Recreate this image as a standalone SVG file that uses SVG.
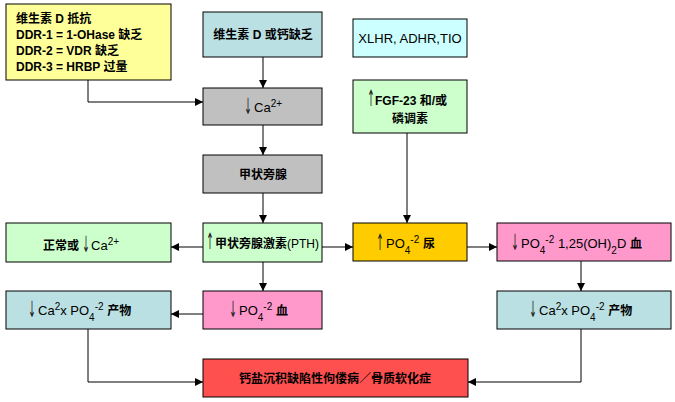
<svg xmlns="http://www.w3.org/2000/svg" width="675" height="402" viewBox="0 0 675 402">
<defs>
<marker id="ah" markerWidth="8" markerHeight="8" refX="8" refY="4" orient="auto" markerUnits="userSpaceOnUse">
<path d="M0,0 L8,4 L0,8 Z" fill="#000"/>
</marker>
<style>
.box{stroke:#000;stroke-width:1}
.b{font-family:"Liberation Sans","Noto Sans CJK SC",sans-serif;font-size:12px;font-weight:bold;fill:#000}
.r{font-family:"Liberation Sans","Noto Sans CJK SC",sans-serif;font-size:13px;fill:#000}
.cb{font-weight:bold;font-size:12px}
.arw{font-family:"DejaVu Sans",sans-serif;font-size:14px;fill:#222;text-anchor:middle}
.sup{font-size:10px}
.conn{fill:none;stroke:#000;stroke-width:1}
</style>
</defs>
<rect width="675" height="402" fill="#fff"/>
<g id="connectors">
<path class="conn" d="M88,80 V102 H203" marker-end="url(#ah)"/>
<path class="conn" d="M263,57 V88" marker-end="url(#ah)"/>
<path class="conn" d="M263,125 V155" marker-end="url(#ah)"/>
<path class="conn" d="M263,193 V223" marker-end="url(#ah)"/>
<path class="conn" d="M203,247 H171" marker-end="url(#ah)"/>
<path class="conn" d="M322,247 H353" marker-end="url(#ah)"/>
<path class="conn" d="M407,133 V223" marker-end="url(#ah)"/>
<path class="conn" d="M467,247 H497" marker-end="url(#ah)"/>
<path class="conn" d="M263,262 V291" marker-end="url(#ah)"/>
<path class="conn" d="M203,314 H171" marker-end="url(#ah)"/>
<path class="conn" d="M581,261 V291" marker-end="url(#ah)"/>
<path class="conn" d="M88,329 V382 H203" marker-end="url(#ah)"/>
<path class="conn" d="M581,329 V382 H468" marker-end="url(#ah)"/>
</g>
<g id="n_resist">
<rect class="box" x="6" y="4" width="165" height="76" fill="#ffff99"/>
<text class="b" x="16" y="23">维生素 D 抵抗</text>
<text class="b" x="16" y="39">DDR-1 = 1-OHase 缺乏</text>
<text class="b" x="16" y="55">DDR-2 = VDR 缺乏</text>
<text class="b" x="16" y="71">DDR-3 = HRBP 过量</text>
</g>
<g id="n_deficit">
<rect class="box" x="203" y="12" width="119" height="45" fill="#bbe0e3"/>
<text class="b" x="263" y="39" text-anchor="middle">维生素 D 或钙缺乏</text>
</g>
<g id="n_ca">
<rect class="box" x="203" y="88" width="119" height="37" fill="#c0c0c0"/>
<text class="arw" transform="translate(248,114) scale(0.65,1.6)">↓</text>
<text class="r" x="254" y="112">Ca<tspan class="sup" baseline-shift="super">2+</tspan></text>
</g>
<g id="n_xlhr">
<rect class="box" x="353" y="19" width="114" height="38" fill="#ccffff"/>
<text class="r" x="410" y="43" text-anchor="middle">XLHR, ADHR,TIO</text>
</g>
<g id="n_fgf">
<rect class="box" x="353" y="80" width="114" height="53" fill="#ccffcc"/>
<text class="arw" transform="translate(371,106) scale(0.65,1.6)">↑</text>
<text class="b" x="375" y="105">FGF-23 和/或</text>
<text class="b" x="410" y="123" text-anchor="middle">磷调素</text>
</g>
<g id="n_para">
<rect class="box" x="203" y="155" width="119" height="38" fill="#c0c0c0"/>
<text class="b" x="263" y="179" text-anchor="middle">甲状旁腺</text>
</g>
<g id="n_pth">
<rect class="box" x="203" y="223" width="119" height="39" fill="#ccffcc"/>
<text class="arw" transform="translate(210,249) scale(0.65,1.6)">↑</text>
<text class="r" x="215" y="248"><tspan class="cb">甲状旁腺激素</tspan><tspan font-size="12">(PTH)</tspan></text>
</g>
<g id="n_normal">
<rect class="box" x="6" y="223" width="165" height="39" fill="#ccffcc"/>
<text class="b" x="43" y="250">正常或</text>
<text class="arw" transform="translate(86,252) scale(0.65,1.6)">↓</text>
<text class="r" x="91" y="250">Ca<tspan class="sup" baseline-shift="super">2+</tspan></text>
</g>
<g id="n_urine">
<rect class="box" x="353" y="223" width="114" height="38" fill="#ffcc00"/>
<text class="arw" transform="translate(380,250) scale(0.65,1.6)">↑</text>
<text class="r" x="386" y="248">PO<tspan class="sup" baseline-shift="sub">4</tspan><tspan class="sup" baseline-shift="super">-2</tspan> <tspan class="cb">尿</tspan></text>
</g>
<g id="n_blood_d">
<rect class="box" x="497" y="223" width="174" height="38" fill="#ff99cc"/>
<text class="arw" transform="translate(515,250) scale(0.65,1.6)">↓</text>
<text class="r" x="521" y="248">PO<tspan class="sup" baseline-shift="sub">4</tspan><tspan class="sup" baseline-shift="super">-2</tspan> 1,25(OH)<tspan class="sup" baseline-shift="sub">2</tspan>D <tspan class="cb">血</tspan></text>
</g>
<g id="n_prod_l">
<rect class="box" x="6" y="291" width="165" height="38" fill="#bbe0e3"/>
<text class="arw" transform="translate(32,317) scale(0.65,1.6)">↓</text>
<text class="r" x="38" y="315">Ca<tspan class="sup" baseline-shift="super">2</tspan>x PO<tspan class="sup" baseline-shift="sub">4</tspan><tspan class="sup" baseline-shift="super">-2</tspan>  <tspan class="cb">产物</tspan></text>
</g>
<g id="n_blood">
<rect class="box" x="203" y="291" width="119" height="38" fill="#ff99cc"/>
<text class="arw" transform="translate(233,317) scale(0.65,1.6)">↓</text>
<text class="r" x="239" y="315">PO<tspan class="sup" baseline-shift="sub">4</tspan><tspan class="sup" baseline-shift="super">-2</tspan> <tspan class="cb">血</tspan></text>
</g>
<g id="n_prod_r">
<rect class="box" x="497" y="291" width="174" height="38" fill="#bbe0e3"/>
<text class="arw" transform="translate(533,317) scale(0.65,1.6)">↓</text>
<text class="r" x="539" y="315">Ca<tspan class="sup" baseline-shift="super">2</tspan>x PO<tspan class="sup" baseline-shift="sub">4</tspan><tspan class="sup" baseline-shift="super">-2</tspan> <tspan class="cb">产物</tspan></text>
</g>
<g id="n_rickets">
<rect class="box" x="203" y="359" width="265" height="38" fill="#ff5050"/>
<text class="b" x="335" y="383" text-anchor="middle">钙盐沉积缺陷性佝偻病／骨质软化症</text>
</g>
</svg>
